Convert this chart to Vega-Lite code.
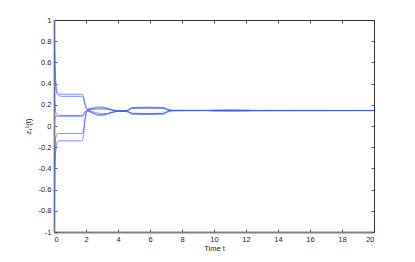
{
  "$schema": "https://vega.github.io/schema/vega-lite/v6.json",
  "autosize": {"type": "none"},
  "padding": {"left": 54, "top": 20, "right": 41, "bottom": 30},
  "width": 320,
  "height": 212,
  "background": "white",
  "config": {
    "view": {"stroke": null},
    "font": "Liberation Sans",
    "axis": {"domainColor": "#333333", "tickColor": "#333333", "labelColor": "#222222", "titleColor": "#222222", "labelFont": "Liberation Sans", "titleFont": "Liberation Sans", "labelFontSize": 7.5, "titleFontSize": 7.5, "titleFontWeight": "normal", "grid": false, "domainWidth": 1, "tickWidth": 0.8, "tickSize": -3}
  },
  "data": {"values": [
    {"t":0,"v":1.0,"a":"a1"},{"t":0.04,"v":0.75,"a":"a1"},{"t":0.1,"v":0.45,"a":"a1"},{"t":0.2,"v":0.32,"a":"a1"},{"t":0.35,"v":0.30,"a":"a1"},{"t":0.5,"v":0.30,"a":"a1"},{"t":1.75,"v":0.30,"a":"a1"},{"t":1.85,"v":0.27,"a":"a1"},{"t":1.95,"v":0.2,"a":"a1"},{"t":2.1,"v":0.16,"a":"a1"},{"t":2.4,"v":0.17,"a":"a1"},{"t":2.8,"v":0.18,"a":"a1"},{"t":3.2,"v":0.175,"a":"a1"},{"t":3.6,"v":0.155,"a":"a1"},{"t":4.0,"v":0.145,"a":"a1"},{"t":4.4,"v":0.142,"a":"a1"},{"t":4.6,"v":0.15,"a":"a1"},{"t":4.9,"v":0.175,"a":"a1"},{"t":5.8,"v":0.178,"a":"a1"},{"t":6.8,"v":0.176,"a":"a1"},{"t":7.1,"v":0.16,"a":"a1"},{"t":7.35,"v":0.148,"a":"a1"},{"t":9.5,"v":0.147,"a":"a1"},{"t":10,"v":0.149,"a":"a1"},{"t":11,"v":0.15,"a":"a1"},{"t":12,"v":0.149,"a":"a1"},{"t":12.5,"v":0.147,"a":"a1"},{"t":20,"v":0.146,"a":"a1"},
    {"t":0,"v":0.7,"a":"a2"},{"t":0.04,"v":0.55,"a":"a2"},{"t":0.1,"v":0.38,"a":"a2"},{"t":0.2,"v":0.30,"a":"a2"},{"t":0.35,"v":0.285,"a":"a2"},{"t":0.5,"v":0.28,"a":"a2"},{"t":1.75,"v":0.28,"a":"a2"},{"t":1.85,"v":0.26,"a":"a2"},{"t":1.95,"v":0.19,"a":"a2"},{"t":2.1,"v":0.155,"a":"a2"},{"t":2.4,"v":0.165,"a":"a2"},{"t":2.8,"v":0.17,"a":"a2"},{"t":3.2,"v":0.168,"a":"a2"},{"t":3.6,"v":0.15,"a":"a2"},{"t":4.0,"v":0.142,"a":"a2"},{"t":4.4,"v":0.141,"a":"a2"},{"t":4.6,"v":0.148,"a":"a2"},{"t":4.9,"v":0.17,"a":"a2"},{"t":5.8,"v":0.172,"a":"a2"},{"t":6.8,"v":0.17,"a":"a2"},{"t":7.1,"v":0.155,"a":"a2"},{"t":7.35,"v":0.147,"a":"a2"},{"t":9.5,"v":0.146,"a":"a2"},{"t":10,"v":0.147,"a":"a2"},{"t":11,"v":0.148,"a":"a2"},{"t":12,"v":0.147,"a":"a2"},{"t":12.5,"v":0.146,"a":"a2"},{"t":20,"v":0.146,"a":"a2"},
    {"t":0,"v":0.35,"a":"a3"},{"t":0.04,"v":0.25,"a":"a3"},{"t":0.1,"v":0.14,"a":"a3"},{"t":0.2,"v":0.105,"a":"a3"},{"t":0.35,"v":0.10,"a":"a3"},{"t":0.5,"v":0.10,"a":"a3"},{"t":1.75,"v":0.10,"a":"a3"},{"t":1.85,"v":0.11,"a":"a3"},{"t":1.95,"v":0.13,"a":"a3"},{"t":2.1,"v":0.15,"a":"a3"},{"t":2.4,"v":0.135,"a":"a3"},{"t":2.8,"v":0.12,"a":"a3"},{"t":3.2,"v":0.115,"a":"a3"},{"t":3.6,"v":0.13,"a":"a3"},{"t":4.0,"v":0.14,"a":"a3"},{"t":4.4,"v":0.14,"a":"a3"},{"t":4.6,"v":0.135,"a":"a3"},{"t":4.9,"v":0.118,"a":"a3"},{"t":5.8,"v":0.115,"a":"a3"},{"t":6.8,"v":0.118,"a":"a3"},{"t":7.1,"v":0.135,"a":"a3"},{"t":7.35,"v":0.145,"a":"a3"},{"t":9.5,"v":0.146,"a":"a3"},{"t":10,"v":0.144,"a":"a3"},{"t":11,"v":0.143,"a":"a3"},{"t":12,"v":0.144,"a":"a3"},{"t":12.5,"v":0.145,"a":"a3"},{"t":20,"v":0.146,"a":"a3"},
    {"t":0,"v":-0.45,"a":"a4"},{"t":0.04,"v":-0.3,"a":"a4"},{"t":0.1,"v":-0.12,"a":"a4"},{"t":0.2,"v":-0.075,"a":"a4"},{"t":0.35,"v":-0.07,"a":"a4"},{"t":0.5,"v":-0.07,"a":"a4"},{"t":1.75,"v":-0.07,"a":"a4"},{"t":1.85,"v":-0.03,"a":"a4"},{"t":1.95,"v":0.08,"a":"a4"},{"t":2.1,"v":0.14,"a":"a4"},{"t":2.4,"v":0.12,"a":"a4"},{"t":2.8,"v":0.10,"a":"a4"},{"t":3.2,"v":0.105,"a":"a4"},{"t":3.6,"v":0.125,"a":"a4"},{"t":4.0,"v":0.138,"a":"a4"},{"t":4.4,"v":0.14,"a":"a4"},{"t":4.6,"v":0.132,"a":"a4"},{"t":4.9,"v":0.11,"a":"a4"},{"t":5.8,"v":0.108,"a":"a4"},{"t":6.8,"v":0.11,"a":"a4"},{"t":7.1,"v":0.13,"a":"a4"},{"t":7.35,"v":0.144,"a":"a4"},{"t":9.5,"v":0.146,"a":"a4"},{"t":10,"v":0.143,"a":"a4"},{"t":11,"v":0.142,"a":"a4"},{"t":12,"v":0.143,"a":"a4"},{"t":12.5,"v":0.145,"a":"a4"},{"t":20,"v":0.146,"a":"a4"},
    {"t":0,"v":-0.98,"a":"a5"},{"t":0.04,"v":-0.6,"a":"a5"},{"t":0.1,"v":-0.25,"a":"a5"},{"t":0.2,"v":-0.15,"a":"a5"},{"t":0.35,"v":-0.14,"a":"a5"},{"t":0.5,"v":-0.14,"a":"a5"},{"t":1.75,"v":-0.14,"a":"a5"},{"t":1.85,"v":-0.08,"a":"a5"},{"t":1.95,"v":0.07,"a":"a5"},{"t":2.1,"v":0.145,"a":"a5"},{"t":2.4,"v":0.125,"a":"a5"},{"t":2.8,"v":0.105,"a":"a5"},{"t":3.2,"v":0.11,"a":"a5"},{"t":3.6,"v":0.128,"a":"a5"},{"t":4.0,"v":0.139,"a":"a5"},{"t":4.4,"v":0.141,"a":"a5"},{"t":4.6,"v":0.14,"a":"a5"},{"t":4.9,"v":0.12,"a":"a5"},{"t":5.8,"v":0.118,"a":"a5"},{"t":6.8,"v":0.12,"a":"a5"},{"t":7.1,"v":0.14,"a":"a5"},{"t":7.35,"v":0.145,"a":"a5"},{"t":9.5,"v":0.146,"a":"a5"},{"t":10,"v":0.144,"a":"a5"},{"t":11,"v":0.143,"a":"a5"},{"t":12,"v":0.144,"a":"a5"},{"t":12.5,"v":0.145,"a":"a5"},{"t":20,"v":0.146,"a":"a5"},
    {"t":0,"v":0.05,"a":"a6"},{"t":0.04,"v":0.07,"a":"a6"},{"t":0.1,"v":0.09,"a":"a6"},{"t":0.2,"v":0.092,"a":"a6"},{"t":0.35,"v":0.092,"a":"a6"},{"t":0.5,"v":0.092,"a":"a6"},{"t":1.75,"v":0.092,"a":"a6"},{"t":1.85,"v":0.10,"a":"a6"},{"t":1.95,"v":0.13,"a":"a6"},{"t":2.1,"v":0.15,"a":"a6"},{"t":2.4,"v":0.155,"a":"a6"},{"t":2.8,"v":0.16,"a":"a6"},{"t":3.2,"v":0.16,"a":"a6"},{"t":3.6,"v":0.15,"a":"a6"},{"t":4.0,"v":0.143,"a":"a6"},{"t":4.4,"v":0.142,"a":"a6"},{"t":4.6,"v":0.145,"a":"a6"},{"t":4.9,"v":0.165,"a":"a6"},{"t":5.8,"v":0.168,"a":"a6"},{"t":6.8,"v":0.166,"a":"a6"},{"t":7.1,"v":0.15,"a":"a6"},{"t":7.35,"v":0.147,"a":"a6"},{"t":9.5,"v":0.146,"a":"a6"},{"t":10,"v":0.148,"a":"a6"},{"t":11,"v":0.149,"a":"a6"},{"t":12,"v":0.148,"a":"a6"},{"t":12.5,"v":0.146,"a":"a6"},{"t":20,"v":0.146,"a":"a6"}
  ]},
  "layer": [
    {
      "mark": {"type": "line", "strokeWidth": 0.8, "color": "#3a5cf0", "opacity": 0.85, "interpolate": "monotone", "clip": true},
      "encoding": {
        "x": {"field": "t", "type": "quantitative", "scale": {"domain": [0, 20], "nice": false}, "axis": {"title": "Time t", "values": [0,2,4,6,8,10,12,14,16,18,20], "labelExpr": "toString(datum.value)", "labelPadding": 6, "titlePadding": 2, "domainColor": "#808080", "domainWidth": 1.8}},
        "y": {"field": "v", "type": "quantitative", "scale": {"domain": [-1, 1], "nice": false}, "axis": {"title": "z₁¹(t)", "values": [-1,-0.8,-0.6,-0.4,-0.2,0,0.2,0.4,0.6,0.8,1], "labelExpr": "toString(datum.value)", "labelPadding": 6, "titlePadding": 6, "domainColor": "#808080", "domainWidth": 1.8}},
        "detail": {"field": "a"}
      }
    },
    {
      "mark": {"type": "line", "opacity": 0},
      "encoding": {
        "x": {"field": "t", "type": "quantitative", "scale": {"domain": [0, 20], "nice": false}, "axis": {"orient": "top", "title": null, "labels": false, "values": [0,2,4,6,8,10,12,14,16,18,20]}},
        "y": {"field": "v", "type": "quantitative", "scale": {"domain": [-1, 1], "nice": false}, "axis": {"orient": "right", "title": null, "labels": false, "values": [-1,-0.8,-0.6,-0.4,-0.2,0,0.2,0.4,0.6,0.8,1]}},
        "detail": {"field": "a"}
      }
    }
  ],
  "resolve": {"axis": {"x": "independent", "y": "independent"}}
}
